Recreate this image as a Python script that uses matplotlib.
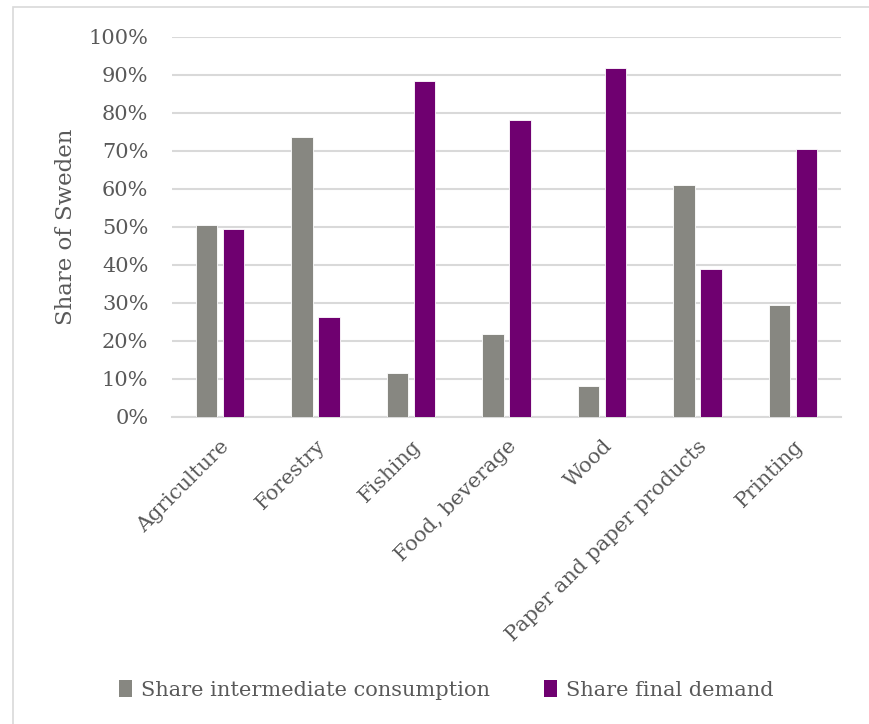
import matplotlib
matplotlib.use("Agg")
import matplotlib.pyplot as plt
from matplotlib.patches import Rectangle, Patch
import numpy as np

categories = ["Agriculture", "Forestry", "Fishing", "Food, beverage", "Wood",
              "Paper and paper products", "Printing"]
share_intermediate = [0.506, 0.736, 0.115, 0.219, 0.082, 0.611, 0.294]
share_final = [0.494, 0.264, 0.885, 0.781, 0.918, 0.389, 0.706]
series_names = ["Share intermediate consumption", "Share final demand"]
yticks = [0.0, 0.1, 0.2, 0.3, 0.4, 0.5, 0.6, 0.7, 0.8, 0.9, 1.0]
ytick_labels = ["0%", "10%", "20%", "30%", "40%", "50%", "60%", "70%", "80%", "90%", "100%"]
ylabel = "Share of Sweden"

grey = "#878781"
purple = "#6F0070"
text_col = "#595959"
grid_col = "#D9D9D9"

plt.rcParams["font.family"] = ["DejaVu Serif"]

W, H = 869, 724
fig = plt.figure(figsize=(W / 100, H / 100), dpi=100)

# chart area border
fig.patches.append(Rectangle((13 / W, -0.05), 1.2, 1 - 7 / H + 0.05,
                             transform=fig.transFigure, fill=False,
                             edgecolor="#D9D9D9", linewidth=1.2, zorder=0))

ax = fig.add_axes([172 / W, 1 - 417 / H, (841 - 172) / W, (417 - 37) / H])
x = np.arange(len(categories))
bw = 0.225
off = 0.141
ax.bar(x - off, share_intermediate, bw, color=grey, edgecolor="white", linewidth=0.6,
       label=series_names[0], zorder=3)
ax.bar(x + off, share_final, bw, color=purple, edgecolor="white", linewidth=0.6,
       label=series_names[1], zorder=3)

ax.set_xlim(-0.5, len(categories) - 0.5)
ax.set_ylim(0, 1.0)
ax.set_yticks(yticks)
ax.set_yticklabels(ytick_labels, fontsize=15, color=text_col)
ax.set_xticks(x)
ax.set_xticklabels(categories, rotation=45, ha="right", rotation_mode="anchor",
                   fontsize=15, color=text_col)
ax.tick_params(axis="both", length=0)
ax.tick_params(axis="y", pad=17)
ax.tick_params(axis="x", pad=14)
ax.yaxis.grid(True, color=grid_col, linewidth=1.5, zorder=0)
ax.set_axisbelow(True)
for s in ["top", "right", "left"]:
    ax.spines[s].set_visible(False)
ax.spines["bottom"].set_color(grid_col)
ax.spines["bottom"].set_linewidth(1.5)
ax.set_ylabel(ylabel, fontsize=16.5, color=text_col, labelpad=8)

handles = [Patch(facecolor=grey), Patch(facecolor=purple)]
fig.legend(handles, series_names, loc="center", bbox_to_anchor=(446 / W, 1 - 690 / H),
           ncol=2, frameon=False, fontsize=15, labelcolor=text_col,
           handlelength=0.65, handleheight=0.85, handletextpad=0.4, columnspacing=2.6)

fig.savefig("out.png", dpi=100)
